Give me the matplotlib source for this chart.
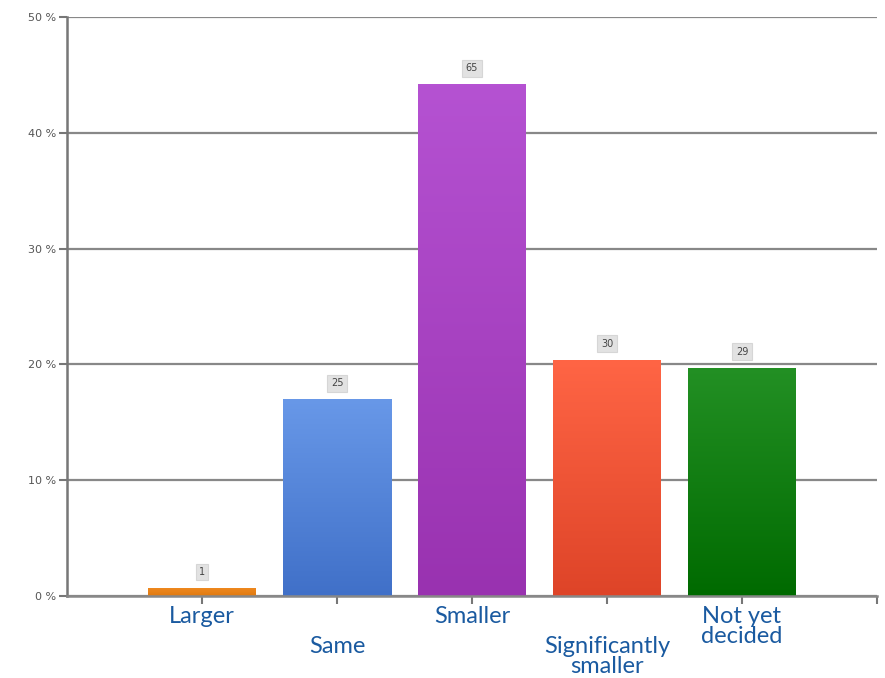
import numpy as np
import matplotlib
matplotlib.use("Agg")
import matplotlib.pyplot as plt
from matplotlib.colors import LinearSegmentedColormap

categories = ["Larger", "Same", "Smaller", "Significantly\nsmaller", "Not yet\ndecided"]
counts = [1, 25, 65, 30, 29]
percents = [0.7, 17.0, 44.2, 20.4, 19.7]
yticks = [0, 10, 20, 30, 40, 50]
ytick_labels = ["0 %", "10 %", "20 %", "30 %", "40 %", "50 %"]
top_colors = ["#f08a20", "#6898e8", "#b552d2", "#ff6545", "#239024"]
bottom_colors = ["#e07a10", "#4070c8", "#9932b0", "#de4428", "#006a00"]
label_offsets = [0, 1, 0, 1, 0]  # staggered label rows

fig = plt.figure(figsize=(8.85, 6.78), dpi=100)
ax = fig.add_axes([67/885, 1-596/678, 810/885, 579/678])

x = np.arange(1, len(categories) + 1)
bars = ax.bar(x, percents, width=0.8, color=top_colors, zorder=3)

# vertical gradients clipped to each bar
grad = np.linspace(0, 1, 256).reshape(-1, 1)
for b, c1, c2 in zip(bars, top_colors, bottom_colors):
    cmap = LinearSegmentedColormap.from_list("g", [c2, c1])
    x0, y0 = b.get_x(), b.get_y()
    w, h = b.get_width(), b.get_height()
    im = ax.imshow(grad, cmap=cmap, aspect="auto", origin="lower",
                   extent=[x0, x0 + w, y0, y0 + h], zorder=4)
    im.set_clip_path(b)

ax.set_xlim(0, 6)
ax.set_ylim(0, 50)
ax.set_yticks(yticks)
ax.set_yticklabels(ytick_labels, fontsize=8, color="#555555")
ax.set_xticks(np.arange(1, 7))
ax.set_xticklabels([])
ax.tick_params(axis="y", length=6, width=1.5, color="#777777", pad=2)
ax.tick_params(axis="x", length=6, width=1.5, color="#777777", direction="out")
ax.grid(axis="y", color="#888888", linewidth=1.6, zorder=1)
for s in ["top", "right"]:
    ax.spines[s].set_visible(False)
ax.spines["left"].set_color("#777777")
ax.spines["left"].set_linewidth(1.8)
ax.spines["bottom"].set_color("#888888")
ax.spines["bottom"].set_linewidth(1.8)
ax.spines["bottom"].set_zorder(5)

# value labels
for xi, p, c in zip(x, percents, counts):
    ax.annotate(str(c), (xi, p), xytext=(0, 11.5), textcoords="offset points",
                ha="center", va="center", fontsize=7, color="#444444",
                bbox=dict(boxstyle="square,pad=0.35", fc="#e2e2e2", ec="#d6d6d6", lw=0.8),
                zorder=6)

# category labels
for xi, lab, off in zip(x, categories, label_offsets):
    ax.annotate(lab, (xi, 0), xytext=(0, -10 - off * 30), textcoords="offset pixels",
                ha="center", va="top", fontsize=17, color="#1a5aa0",
                family="Lato", linespacing=0.92, annotation_clip=False)

fig.savefig("out.png", dpi=100)
